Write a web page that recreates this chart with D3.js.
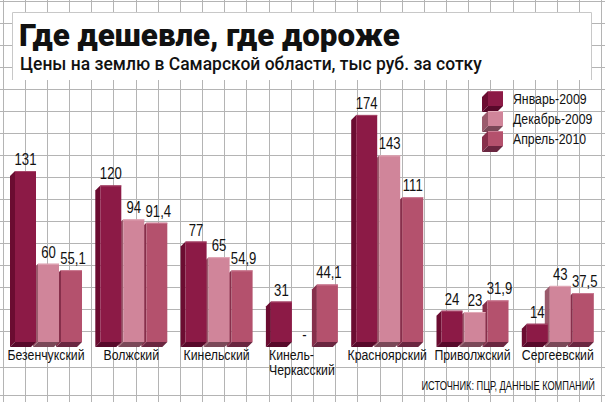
<!DOCTYPE html>
<html>
<head>
<meta charset="utf-8">
<script src="https://cdn.jsdelivr.net/npm/d3@7"></script>
<style>
  body { margin: 0; background: #fff; }
  svg { display: block; }
</style>
</head>
<body>
<div id="chart"></div>
<script>
var districts = ["Безенчукский", "Волжский", "Кинельский", "Кинель-Черкасский", "Красноярский", "Приволжский", "Сергеевский"];
var seriesNames = ["Январь-2009", "Декабрь-2009", "Апрель-2010"];
var jan2009 = [131, 120, 77, 31, 174, 24, 14];
var dec2009 = [60, 94, 65, null, 143, 23, 43];
var apr2010 = [55.1, 91.4, 54.9, 44.1, 111, 31.9, 37.5];

// no narrow font installed, so Liberation Sans is squeezed horizontally
var sans = "'Liberation Sans', Arial, sans-serif";
var squeeze = 0.82;
var width = 605, height = 402;
var baseY = 342, depth = 5;

var svg = d3.select("#chart")
  .append("svg")
  .attr("width", width)
  .attr("height", height);

function addText(g, x, y, size, txt, opts) {
  opts = opts || {};
  return g.append("text")
    .attr("transform", "translate(" + x + "," + y + ") scale(" + (opts.sx || squeeze) + ",1)")
    .attr("text-anchor", opts.anchor || "start")
    .style("font-family", opts.family || sans)
    .style("font-weight", opts.weight || "normal")
    .style("font-size", size + "px")
    .style("fill", "#111")
    .text(txt);
}

// background grid
var grid = svg.append("g").attr("stroke", "#b4b4b4").attr("stroke-width", 1);
d3.range(0, 28).forEach(function(i) {
  var x = Math.round(2.5 + i * 22.18) + 0.5;
  grid.append("line").attr("x1", x).attr("x2", x).attr("y1", 0).attr("y2", height);
});
d3.range(1, 340, 22).concat([367, 395]).forEach(function(v) {
  var y = Math.round(v) + 0.5;
  grid.append("line").attr("x1", 0).attr("x2", width).attr("y1", y).attr("y2", y);
});

// title box
svg.append("rect")
  .attr("x", 12).attr("y", 12).attr("width", 580).attr("height", 68)
  .style("fill", "#fff");
svg.append("path")
  .attr("d", "M12.5,80 V12.5 H591.5 V80")
  .attr("fill", "none")
  .attr("stroke", "#c8c8c8");

addText(svg, 19, 46, 31, "Где дешевле, где дороже", {family: "Roboto, sans-serif", weight: "900", sx: 1.01});
addText(svg, 20, 70, 19, "Цены на землю в Самарской области, тыс руб. за сотку", {family: "Roboto, sans-serif", weight: "500", sx: 0.92});

var data = districts.map(function(d, i) {
  return {name: d, values: [jan2009[i], dec2009[i], apr2010[i]]};
});

var x0 = d3.scaleBand()
  .domain(districts)
  .range([15, 593.8])
  .paddingInner(0.2145)
  .paddingOuter(0);

var x1 = d3.scaleBand()
  .domain(seriesNames)
  .range([0, x0.bandwidth()])
  .paddingInner(0.087);

var y = d3.scaleLinear()
  .domain([0, 174])
  .range([baseY, baseY - 174 * 1.305]);

var front = d3.scaleOrdinal().domain(seriesNames).range(["#8c1a46", "#d0859a", "#b4516d"]);
var side = d3.scaleOrdinal().domain(seriesNames).range(["#6b0c31", "#9a5a6c", "#862f4b"]);
var bottom = d3.scaleOrdinal().domain(seriesNames).range(["#58092a", "#7a4858", "#6a2640"]);
var edge = d3.scaleOrdinal().domain(seriesNames).range(["#a84a6c", "#e2aab8", "#cc7e95"]);

function fmt(v) {
  if (v == null) return "-";
  return Number.isInteger(v) ? String(v) : String(v).replace(".", ",");
}

function drawBox(g, x, top, w, bot, d, s) {
  g.append("path")
    .attr("d", "M" + x + "," + top + " L" + (x - d) + "," + (top + d) + " L" + (x - d) + "," + (bot + d) + " L" + x + "," + bot + "Z")
    .style("fill", side(s));
  g.append("path")
    .attr("d", "M" + x + "," + bot + " L" + (x + w) + "," + bot + " L" + (x + w - d) + "," + (bot + d) + " L" + (x - d) + "," + (bot + d) + "Z")
    .style("fill", bottom(s));
  g.append("rect")
    .attr("x", x).attr("y", top)
    .attr("width", w).attr("height", bot - top)
    .style("fill", front(s));
  g.append("rect")
    .attr("x", x).attr("y", top)
    .attr("width", w).attr("height", 1)
    .style("fill", edge(s));
}

var groups = svg.selectAll("g.district")
  .data(data)
  .enter().append("g")
  .attr("class", "district")
  .attr("transform", function(d) { return "translate(" + x0(d.name) + ",0)"; });

groups.each(function(d) {
  var g = d3.select(this);
  // draw right to left so left bars cover neighbours' side faces
  for (var i = seriesNames.length - 1; i >= 0; i--) {
    var s = seriesNames[i], v = d.values[i];
    if (v == null) continue;
    drawBox(g, x1(s), y(v), x1.bandwidth(), baseY, depth, s);
  }
  seriesNames.forEach(function(s, i) {
    var v = d.values[i];
    var lx = x1(s) + x1.bandwidth() / 2 + (v != null && !Number.isInteger(v) ? 1.5 : 0);
    addText(g, lx, v == null ? baseY - 2 : y(v) - 6, 16, fmt(v), {anchor: "middle"});
  });

  var lines = d.name === "Кинель-Черкасский" ? ["Кинель-", "Черкасский"] : [d.name];
  var cx = x0.bandwidth() / 2 - depth / 2;
  var labels = lines.map(function(l, j) {
    return addText(g, 0, 0, 15, l);
  });
  var maxW = d3.max(labels, function(t) { return t.node().getComputedTextLength() * squeeze; });
  labels.forEach(function(t, j) {
    t.attr("transform", "translate(" + (cx - maxW / 2) + "," + (360 + j * 15) + ") scale(" + squeeze + ",1)");
  });
});

// legend
var legend = svg.append("g");
seriesNames.forEach(function(s, i) {
  var top = 91 + i * 20;
  drawBox(legend, 488, top, 15, top + 15, 6, s);
  addText(legend, 513, top + 13, 15, s);
});

addText(svg, 595, 390, 13, "ИСТОЧНИК: ПЦР, ДАННЫЕ КОМПАНИЙ", {anchor: "end", sx: 0.71});
</script>
</body>
</html>
